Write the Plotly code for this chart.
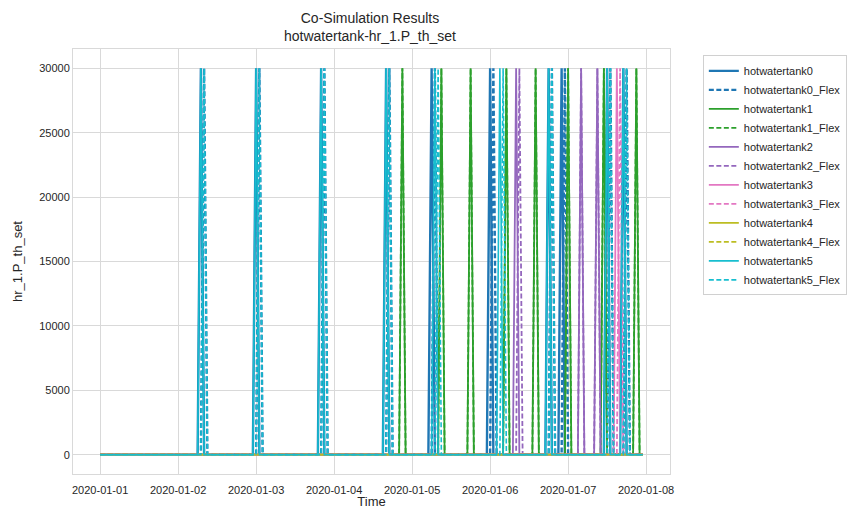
import numpy as np
import pandas as pd
import plotly.graph_objects as go

# Hourly samples from 2020-01-01 00:00 (hour 0) to 2020-01-07 23:00 (hour 167)
n_hours = 168
start = pd.Timestamp("2020-01-01 00:00")

# Hours at which each series is at 30000 W (otherwise 0)
tank0_on = [31, 48, 68, 88, 102, 120, 138, 142, 156, 161]
tank0_flex_on = [32, 49, 69, 89, 103, 121, 139, 143, 157, 162]
tank1_on = [93, 105, 114, 125, 134, 144, 155, 165]
tank1_flex_on = [93, 105, 114, 125, 134, 144, 155, 165]
tank2_on = [128, 148, 153]
tank2_flex_on = [129, 148, 153]
tank3_on = [159]
tank3_flex_on = [160]
tank4_on = []
tank4_flex_on = []
tank5_on = [31, 48, 68, 88, 103, 123, 138, 156, 161]
tank5_flex_on = [32, 49, 69, 89, 104, 124, 139, 157, 162]
on_value = 30000

series_names = ["hotwatertank0", "hotwatertank0_Flex", "hotwatertank1", "hotwatertank1_Flex",
                "hotwatertank2", "hotwatertank2_Flex", "hotwatertank3", "hotwatertank3_Flex",
                "hotwatertank4", "hotwatertank4_Flex", "hotwatertank5", "hotwatertank5_Flex"]
series_on = [tank0_on, tank0_flex_on, tank1_on, tank1_flex_on, tank2_on, tank2_flex_on,
             tank3_on, tank3_flex_on, tank4_on, tank4_flex_on, tank5_on, tank5_flex_on]
tank_colors = ["#1f77b4", "#2ca02c", "#9467bd", "#e377c2", "#bcbd22", "#17becf"]
line_widths = [2.4, 1.8, 1.8, 1.8, 1.8, 1.6]

x_tick_vals = ["2020-01-01", "2020-01-02", "2020-01-03", "2020-01-04",
               "2020-01-05", "2020-01-06", "2020-01-07", "2020-01-08"]
y_tick_vals = [0, 5000, 10000, 15000, 20000, 25000, 30000]

times = start + pd.to_timedelta(np.arange(n_hours), unit="h")

fig = go.Figure()
for i, (name, on) in enumerate(zip(series_names, series_on)):
    y = np.zeros(n_hours)
    if on:
        y[np.array(on)] = on_value
    flex = name.endswith("_Flex")
    fig.add_trace(go.Scatter(
        x=times, y=y, mode="lines", name=name,
        line=dict(color=tank_colors[i // 2], width=line_widths[i // 2],
                  dash="5px,2.5px" if flex else "solid"),
    ))

span = (times[-1] - times[0])
x0 = times[0] - 0.05 * span
x1 = times[-1] + 0.05 * span

grid = "#d9d9d9"
fig.update_layout(
    width=851, height=509,
    margin=dict(l=73, r=181, t=49, b=35, autoexpand=False),
    paper_bgcolor="white", plot_bgcolor="white",
    font=dict(family="Liberation Sans, Arial, sans-serif", size=11, color="#262626"),
    title=dict(text="Co-Simulation Results<br>hotwatertank-hr_1.P_th_set",
               x=370 / 851, xanchor="center", y=0.955, yanchor="top",
               font=dict(size=14, color="#262626")),
    showlegend=True,
    legend=dict(x=1.055, xanchor="left", y=0.985, yanchor="top",
                bgcolor="white", bordercolor="#d0d0d0", borderwidth=1,
                font=dict(size=11, color="#262626"), tracegroupgap=0),
    xaxis=dict(range=[x0, x1], tickvals=x_tick_vals, ticktext=x_tick_vals,
               showgrid=True, gridcolor=grid, gridwidth=1,
               showline=True, linecolor=grid, linewidth=1, mirror=True,
               zeroline=False, ticks="", ticklabelstandoff=6,
               title=dict(text="Time", font=dict(size=13), standoff=5)),
    yaxis=dict(range=[-1500, 31500], tickvals=y_tick_vals, tickformat="d",
               showgrid=True, gridcolor=grid, gridwidth=1,
               showline=True, linecolor=grid, linewidth=1, mirror=True,
               zeroline=False, ticks="",
               title=dict(text="hr_1.P_th_set", font=dict(size=13), standoff=13)),
)

fig.write_html("out.html", config={"displayModeBar": False},
               post_script="document.body.style.margin='0px';")
